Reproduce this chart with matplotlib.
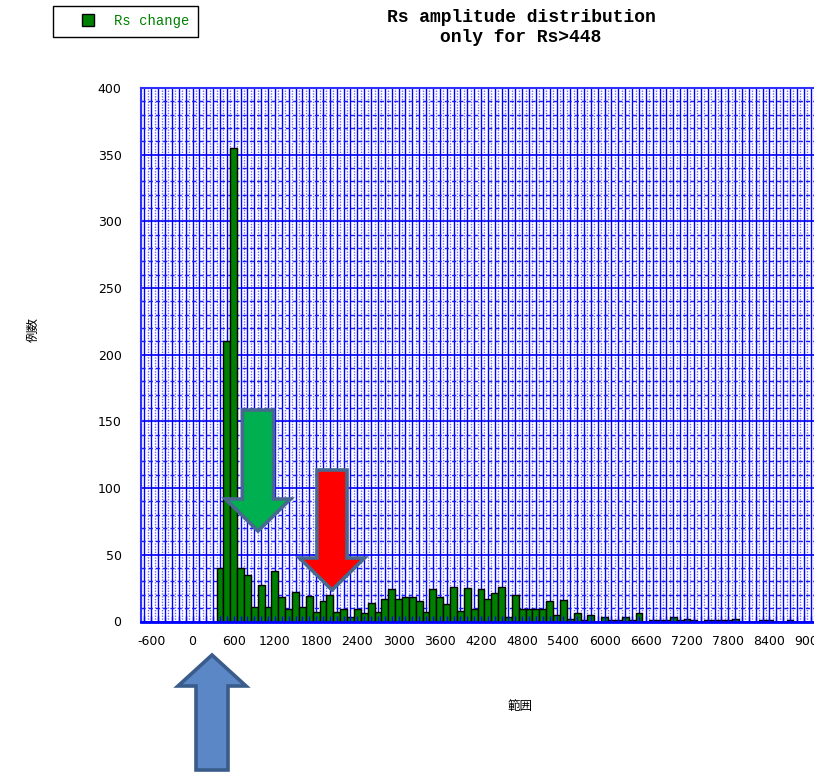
import matplotlib
matplotlib.use("Agg")
import matplotlib.pyplot as plt
import numpy as np
from matplotlib.lines import Line2D
from matplotlib.patches import Polygon
from matplotlib.ticker import MultipleLocator, FuncFormatter

# Histogram of Rs amplitude, bins of width 100 starting at 400
bin_width = 100
first_bin_center = 400
counts = [40, 210, 355, 40, 35, 11, 27, 11, 38, 18,
          9, 22, 11, 19, 7, 15, 20, 7, 9, 3,
          9, 6, 14, 7, 17, 24, 17, 18, 18, 15,
          7, 24, 18, 13, 26, 8, 25, 9, 24, 17,
          21, 26, 3, 20, 9, 9, 9, 9, 15, 5,
          16, 2, 6, 1, 5, 0, 3, 1, 1, 3,
          1, 6, 0, 1, 1, 1, 3, 1, 2, 1,
          0, 1, 1, 1, 1, 2, 0, 0, 0, 1,
          1, 0, 0, 1]
bin_centers = first_bin_center + bin_width * np.arange(len(counts))

series_label = "Rs change"
title_lines = ["Rs amplitude distribution", "only for Rs>448"]
x_label = "範囲"
y_label = "例数"
x_limits = (-750, 9500)
y_limits = (0, 400)
x_label_step = 600
y_label_step = 50

W, H = 814, 774
fig = plt.figure(figsize=(W / 100, H / 100), dpi=100)
fig.patch.set_facecolor("white")

def fx(px):
    return px / W

def fy(py):
    return 1 - py / H

# plot area in pixel terms: left 141, top 88, bottom 621.5 (extends past right edge)
ax_left, ax_top, ax_bottom, ax_width = 141, 88, 621.5, 704
ax = fig.add_axes([fx(ax_left), fy(ax_bottom), ax_width / W, (ax_bottom - ax_top) / H])
ax.set_xlim(*x_limits)
ax.set_ylim(*y_limits)
ax.set_axisbelow(True)

ax.bar(bin_centers, counts, width=bin_width, color="#008000",
       edgecolor="black", linewidth=1.0, label=series_label, zorder=2)

# dense blue grid
ax.xaxis.set_major_locator(MultipleLocator(bin_width))
ax.xaxis.set_minor_locator(MultipleLocator(bin_width / 2))
ax.yaxis.set_major_locator(MultipleLocator(y_label_step))
ax.yaxis.set_minor_locator(MultipleLocator(10))
ax.xaxis.set_major_formatter(FuncFormatter(
    lambda v, p: f"{int(round(v))}" if round(v) % x_label_step == 0 else ""))
ax.yaxis.set_major_formatter(FuncFormatter(lambda v, p: f"{int(round(v))}"))

ax.grid(which="major", axis="x", color="#0000ff", linewidth=1.0, linestyle="-")
ax.grid(which="minor", axis="x", color="#6a6aff", linewidth=1.0, linestyle=(0, (1, 1)))
ax.grid(which="major", axis="y", color="#0000ff", linewidth=1.2, linestyle="-")
ax.grid(which="minor", axis="y", color="#1a1aff", linewidth=1.0, linestyle=(0, (3, 2.2)))

tick_font = dict(family=["Liberation Sans Narrow", "DejaVu Sans"], size=9)
ax.tick_params(which="both", length=0)
ax.tick_params(axis="x", pad=10)
ax.tick_params(axis="y", pad=14)
for lab in ax.get_xticklabels() + ax.get_yticklabels():
    lab.set_fontfamily(tick_font["family"])
    lab.set_fontsize(tick_font["size"])

for side in ["top", "left", "right"]:
    ax.spines[side].set_color("#3030ff")
    ax.spines[side].set_linewidth(1.5)
ax.spines["bottom"].set_color("#0000ff")
ax.spines["bottom"].set_linewidth(2.0)

# overlay axis carrying the inward tick marks drawn above the bars
ax_ticks = ax.twiny()
ax_ticks.set_xlim(*x_limits)
ax_ticks.xaxis.set_ticks_position("bottom")
ax_ticks.xaxis.set_major_locator(MultipleLocator(bin_width))
ax_ticks.tick_params(axis="x", direction="in", length=4.5, width=1.0,
                     color="#0000ff", labelbottom=False, labeltop=False)
for s in ax_ticks.spines.values():
    s.set_visible(False)

cjk = ["Noto Sans CJK JP", "DejaVu Sans"]
ax.set_xlabel(x_label, fontfamily=cjk, fontsize=9)
ax.xaxis.set_label_coords((520 - ax_left) / ax_width, (ax_bottom - 700) / (ax_bottom - ax_top))
ax.set_ylabel(y_label, fontfamily=cjk, fontsize=9)
ax.yaxis.set_label_coords((40 - ax_left) / ax_width, (ax_bottom - 330) / (ax_bottom - ax_top))

fig.text(fx(521), fy(9), "\n".join(title_lines), ha="center", va="top",
         fontfamily=["Liberation Mono", "DejaVu Sans Mono"], fontsize=13,
         fontweight="bold", linespacing=1.2)

handle = Line2D([], [], marker="s", markersize=9, markerfacecolor="#008000",
                markeredgecolor="black", markeredgewidth=1.0, linestyle="none")
leg = fig.legend(handles=[handle], labels=[series_label], loc="upper left",
                 bbox_to_anchor=(fx(53), fy(6)), bbox_transform=fig.transFigure,
                 frameon=True, fancybox=False, edgecolor="black", framealpha=1,
                 borderpad=0.6, handlelength=3.8, handletextpad=0.0, borderaxespad=0,
                 prop=dict(family=["Liberation Mono", "DejaVu Sans Mono"], size=10))
leg.get_frame().set_linewidth(1.0)
for t in leg.get_texts():
    t.set_color("#008000")

# block arrows pointing at features of the distribution
def block_arrow(cx, shaft_half, head_half, y_tail, y_neck, y_tip, face, edge):
    pts = [(cx - shaft_half, y_tail), (cx + shaft_half, y_tail),
           (cx + shaft_half, y_neck), (cx + head_half, y_neck), (cx, y_tip),
           (cx - head_half, y_neck), (cx - shaft_half, y_neck)]
    poly = Polygon([(fx(x), fy(y)) for x, y in pts], closed=True,
                   transform=fig.transFigure, facecolor=face, edgecolor=edge,
                   linewidth=2.6, joinstyle="miter", zorder=10)
    fig.add_artist(poly)

block_arrow(258, 15.5, 32.5, 410, 499, 531, "#00B050", "#47698F")
block_arrow(332, 15.0, 32.5, 470, 558, 590, "#FF0000", "#47698F")
block_arrow(212, 16.0, 34.0, 770, 686, 655, "#5B87C6", "#3A5C8A")

fig.savefig("out.png", dpi=100)
